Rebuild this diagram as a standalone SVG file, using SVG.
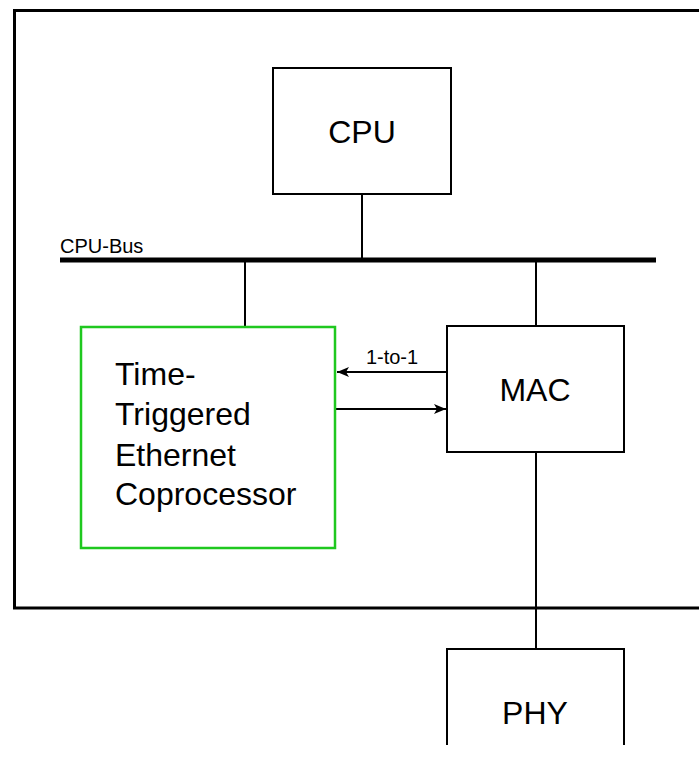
<svg xmlns="http://www.w3.org/2000/svg" width="699" height="772" viewBox="0 0 699 772">
<style>
.box{fill:#fff;stroke:#000;stroke-width:2}
.tte{fill:#fff;stroke:#1fc81f;stroke-width:2.5}
.line{fill:none;stroke:#000;stroke-width:2}
.lbl{font-family:"Liberation Sans",Arial,sans-serif;fill:#000}
.big{font-size:32px}
.small{font-size:20px}
</style>
<defs>
<marker id="arr" viewBox="0 0 12 10" refX="12" refY="5" markerWidth="12" markerHeight="10" markerUnits="userSpaceOnUse" orient="auto">
<path d="M0,0 L12,5 L0,10 L3,5 Z" fill="#000"/>
</marker>
</defs>
<rect width="699" height="772" fill="#fff"/>
<path d="M710 10.5 H14.5 V608 H710" fill="none" stroke="#000" stroke-width="3"/>
<g id="connectors">
<line class="line" x1="362" y1="194" x2="362" y2="260"/>
<line x1="60" y1="260" x2="656" y2="260" stroke="#000" stroke-width="5"/>
<text class="lbl small" x="60" y="253" font-size="21px">CPU-Bus</text>
<line class="line" x1="245" y1="260" x2="245" y2="327"/>
<line class="line" x1="536" y1="260" x2="536" y2="326"/>
<line class="line" x1="536" y1="452" x2="536" y2="649"/>
<line class="line" x1="447" y1="372" x2="337" y2="372" marker-end="url(#arr)"/>
<text class="lbl small" x="392" y="364" text-anchor="middle">1-to-1</text>
<line class="line" x1="336" y1="409" x2="446" y2="409" marker-end="url(#arr)"/>
</g>
<g id="cpu">
<rect class="box" x="273" y="68" width="178" height="126"/>
<text class="lbl big" x="362" y="143" text-anchor="middle">CPU</text>
</g>
<g id="tte">
<rect class="tte" x="81" y="327" width="254" height="221"/>
<text class="lbl big" x="115" y="385">Time-</text>
<text class="lbl big" x="115" y="425">Triggered</text>
<text class="lbl big" x="115" y="466">Ethernet</text>
<text class="lbl big" x="115" y="505">Coprocessor</text>
</g>
<g id="mac">
<rect class="box" x="447" y="326" width="177" height="126"/>
<text class="lbl big" x="535" y="401" text-anchor="middle">MAC</text>
</g>
<g id="phy">
<path class="line" d="M447 745 V649 H624 V745"/>
<text class="lbl big" x="535" y="724" text-anchor="middle">PHY</text>
</g>
</svg>
